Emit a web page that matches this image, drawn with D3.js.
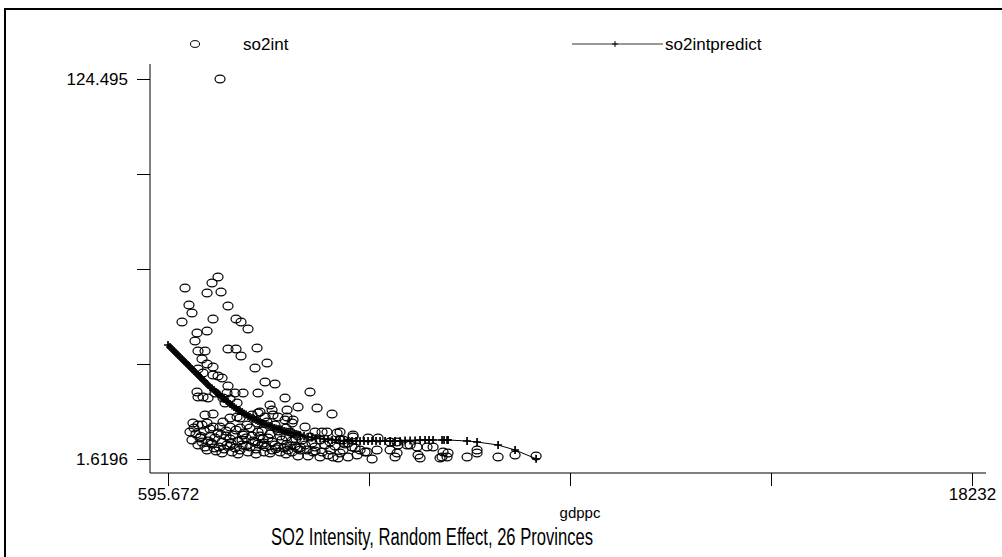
<!DOCTYPE html>
<html>
<head>
<meta charset="utf-8">
<script src="https://cdn.jsdelivr.net/npm/d3@7"></script>
<style>
  body { margin: 0; background: #fff; }
  svg text { font-family: "Liberation Sans", Arial, Helvetica, sans-serif; fill: #000; }
</style>
</head>
<body>
<div id="graphic"></div>
<script>
// SO2 intensity vs gdp per capita, observed values
let gdppc = [
  1737, 1693, 1561, 969, 1452, 1759, 1056, 1912, 1122, 903,
  1583, 2088, 2198, 2351, 1452, 1232, 1188, 1912, 2088, 2549,
  1254, 1408, 2198, 1342, 1452, 2768, 1583, 2505, 1254, 1364,
  1583, 1693, 1781, 2724, 2943, 1912, 1232, 1627, 1890, 2066,
  2242, 2570, 3711, 1254, 1364, 1474, 1803, 1956, 3163, 1847,
  2110, 2834, 3448, 3865, 3207, 2878, 2614, 4194, 1408, 1583,
  2110, 2439, 2570, 2724, 2899, 3009, 3207, 1956, 2176, 1144,
  1254, 1342, 1452, 1583, 1803, 1956, 2176, 2329, 2549, 2768,
  2943, 3163, 3317, 3338, 3602, 3821, 3975, 4084, 4304, 4370,
  4655, 4984, 5203, 5467, 5620, 5840, 6059, 6278, 6410,
  1078, 1210, 1386, 1517, 1693, 1869, 2022, 2263, 2439, 2658, 2834, 3053, 3273, 3448,
  1122, 1298, 1474, 1627, 1781, 1956, 2132, 2307, 2505, 2680, 2878, 3097, 3317, 3536, 3755, 3931, 4150, 4370,
  1254, 1408, 1561, 1715, 1890, 2066, 2220, 2395, 2570, 2746, 2943, 3141, 3382, 3602, 3821, 4040, 4260, 4479,
  1452, 1649, 1825, 2000, 2176, 2351, 2527, 2702, 2878, 3053, 3229, 3426, 3646, 3975, 4150, 4435, 4699, 4962, 5181,
  3448, 3668, 3931, 4216, 4545, 5072, 5576, 5620, 5467, 6081, 6125,
  4633, 4808, 4918, 5642, 5906, 6607, 6739, 6717, 6563, 6629, 7156, 7375, 7375, 7836, 8209, 8670,
  3777, 4326, 4435, 4545, 4655,
  1166, 1517, 1737, 2088, 2395, 2570, 3009, 3185,
  1342, 1869, 2220, 2614, 2790, 3185, 3404, 3711,
  1605, 1956, 2307, 2658, 3009, 3273, 3492, 3821,
  1781, 2132, 2527, 2834, 3185, 3317, 4106, 4370, 4743,
  1320, 1540, 1760, 1980, 2240, 2460, 2700, 2960, 3200, 3500
];
let so2int = [
  124.495, 60.48, 58.54, 56.92, 55.30, 55.63, 51.42, 51.10, 48.84, 45.93,
  46.90, 46.90, 45.93, 43.66, 43.02, 42.37, 39.78, 37.19, 37.19, 37.52,
  36.55, 36.55, 34.93, 33.96, 32.34, 32.67, 31.37, 31.05, 30.73, 29.43,
  28.79, 28.46, 27.82, 26.52, 25.88, 25.23, 23.29, 22.96, 22.96, 22.96,
  22.96, 22.96, 23.29, 21.67, 21.67, 21.35, 21.35, 21.02, 21.35, 19.73,
  19.73, 19.08, 18.44, 18.11, 17.47, 17.47, 16.82, 16.17, 15.85, 16.17,
  15.20, 15.85, 16.50, 15.20, 15.85, 15.20, 15.20, 14.88, 14.88, 13.26,
  12.62, 12.62, 13.26, 11.97, 13.59, 11.97, 11.65, 12.62, 13.26, 13.59,
  12.62, 14.23, 13.26, 14.23, 11.97, 10.35, 10.35, 10.35, 10.03, 10.35,
  9.38, 8.41, 8.41, 7.12, 7.12, 6.15, 5.50, 5.50, 5.50,
  10.35, 9.71, 10.68, 9.06, 10.03, 10.68, 9.38, 10.03, 9.06, 10.68, 9.71, 9.06, 10.35, 9.06,
  7.76, 8.41, 7.44, 8.41, 7.12, 8.09, 7.44, 8.41, 7.12, 8.09, 7.12, 7.76, 7.44, 7.76, 6.79, 7.76, 7.12, 7.76,
  6.15, 5.50, 6.47, 5.50, 6.15, 5.18, 6.15, 5.50, 6.47, 5.50, 6.15, 5.18, 5.82, 6.15, 5.50, 6.15, 5.82, 6.47,
  4.53, 4.21, 4.85, 3.88, 4.53, 3.88, 4.85, 3.88, 4.53, 3.88, 4.53, 5.18, 4.53, 3.88, 4.53, 4.53, 5.18, 3.88, 4.53,
  2.59, 2.59, 2.27, 2.27, 2.27, 1.6196, 2.27, 3.56, 4.53, 2.91, 1.94,
  5.50, 4.53, 3.88, 6.15, 6.15, 2.27, 3.56, 2.27, 1.94, 3.88, 2.27, 4.53, 3.56, 2.27, 2.91, 2.59,
  3.88, 1.94, 7.76, 6.79, 8.73,
  11.65, 11.32, 11.97, 11.00, 11.65, 10.35, 10.68, 11.65,
  7.12, 9.06, 7.76, 9.06, 8.41, 8.73, 8.09, 8.73,
  5.18, 5.82, 5.82, 6.15, 5.50, 5.82, 4.53, 4.21,
  3.56, 3.23, 3.23, 3.56, 3.23, 3.88, 2.91, 3.56, 2.91,
  8.90, 6.90, 9.50, 6.60, 9.40, 7.40, 6.80, 4.90, 6.40, 5.30
];

// Predicted values (random effect)
let predGdppc = [
  596, 640, 683, 728, 771, 815, 859, 903, 947, 991,
  1035, 1078, 1122, 1166, 1210, 1254, 1298, 1342, 1386, 1430,
  1474, 1517, 1561, 1605, 1649, 1693, 1737, 1781, 1825, 1869,
  1912, 1956, 2000, 2044, 2088, 2132, 2176, 2220, 2263, 2307,
  2351, 2395, 2439, 2483, 2527, 2570, 2614, 2658, 2702, 2746,
  2790, 2834, 2878, 2922, 2965, 3009, 3053, 3097, 3141, 3185,
  3229, 3273, 3317, 3360, 3404, 3448, 3492,
  3580, 3668, 3755, 3843, 3931, 4018, 4106, 4194, 4282, 4370,
  4457, 4545, 4633, 4721, 4808, 4896, 4984, 5072, 5159, 5247,
  5357, 5467, 5576, 5686, 5796, 5906, 6015, 6125, 6234, 6322,
  6410, 6607, 6651, 6717, 6739, 7156, 7375, 7836, 8209, 8670
];
let predSo2 = [
  38.49, 37.84, 37.19, 36.55, 35.90, 35.25, 34.61, 33.96, 33.31, 32.67,
  32.02, 31.37, 30.73, 30.08, 29.43, 28.79, 28.14, 27.49, 26.85, 26.20,
  25.55, 24.90, 24.42, 23.93, 23.29, 22.64, 22.16, 21.67, 21.02, 20.54,
  20.05, 19.41, 18.92, 18.44, 17.95, 17.47, 17.14, 16.82, 16.33, 16.01,
  15.53, 15.20, 14.88, 14.56, 14.23, 13.91, 13.59, 13.26, 12.94, 12.78,
  12.45, 12.29, 11.97, 11.65, 11.48, 11.32, 11.16, 11.00, 10.68, 10.51,
  10.35, 10.19, 10.03, 9.87, 9.71, 9.54, 9.38,
  9.06, 8.73, 8.57, 8.41, 8.25, 8.09, 7.93, 7.76, 7.76, 7.60,
  7.44, 7.44, 7.44, 7.44, 7.44, 7.44, 7.44, 7.44, 7.44, 7.44,
  7.44, 7.44, 7.44, 7.44, 7.60, 7.60, 7.60, 7.76, 7.76, 7.76,
  7.76, 7.76, 7.76, 7.76, 7.76, 7.44, 7.12, 6.15, 4.53, 1.70
];

// Axes: only both ends are labelled
let xTickValues = [595.672, 5004.754, 9413.836, 13822.918, 18232];
let xTickLabels = ["595.672", "", "", "", "18232"];
let yTickValues = [1.6196, 32.33845, 63.0573, 93.77615, 124.495];
let yTickLabels = ["1.6196", "", "", "", "124.495"];

let legendLabels = ["so2int", "so2intpredict"];
let xTitle = "gdppc";
let chartTitle = "SO2 Intensity, Random Effect, 26 Provinces";

let cadre = d3.select("#graphic")
  .append("svg")
  .attr("width", 1002)
  .attr("height", 557);

// outer frame (runs past the right and bottom edges)
cadre.append("rect")
  .attr("x", 5).attr("y", 9)
  .attr("width", 1020).attr("height", 580)
  .attr("fill", "none")
  .attr("stroke", "#000")
  .attr("stroke-width", 2);

let x = d3.scaleLinear().domain([595.672, 18232]).range([168, 972]);
let y = d3.scaleLinear().domain([1.6196, 124.495]).range([459, 79]);

// axis lines
cadre.append("line")
  .attr("x1", 150).attr("x2", 150).attr("y1", 64).attr("y2", 473)
  .attr("stroke", "#000");
cadre.append("line")
  .attr("x1", 150).attr("x2", 986).attr("y1", 473).attr("y2", 473)
  .attr("stroke", "#000");

let yAxis = d3.axisLeft(y)
  .tickValues(yTickValues)
  .tickFormat(function(d, i){ return yTickLabels[i]; })
  .tickSize(13)
  .tickPadding(9);
let gy = cadre.append("g")
  .attr("transform", "translate(150,0)")
  .call(yAxis);
gy.select(".domain").remove();
gy.selectAll("text").attr("font-size", 17);

let xAxis = d3.axisBottom(x)
  .tickValues(xTickValues)
  .tickFormat(function(d, i){ return xTickLabels[i]; })
  .tickSize(13)
  .tickPadding(2);
let gx = cadre.append("g")
  .attr("transform", "translate(0,473)")
  .call(xAxis);
gx.select(".domain").remove();
gx.selectAll("text").attr("font-size", 17);
cadre.selectAll(".tick line").attr("stroke", "#000");

// observed points
cadre.append("g")
  .selectAll("ellipse")
  .data(gdppc)
  .enter()
    .append("ellipse")
    .attr("cx", function(d){ return x(d); })
    .attr("cy", function(d, i){ return y(so2int[i]); })
    .attr("rx", 5)
    .attr("ry", 3.9)
    .attr("fill", "none")
    .attr("stroke", "#000")
    .attr("stroke-width", 1.2);

// predicted line with + markers
let pred = predGdppc.map(function(d, i){ return [d, predSo2[i]]; });
cadre.append("path")
  .datum(pred)
  .attr("fill", "none")
  .attr("stroke", "#000")
  .attr("stroke-width", 1)
  .attr("d", d3.line().x(function(d){ return x(d[0]); }).y(function(d){ return y(d[1]); }));

cadre.append("g")
  .selectAll("path.plus")
  .data(pred)
  .enter()
    .append("path")
    .attr("class", "plus")
    .attr("d", "M-4,0H4M0,-4V4")
    .attr("transform", function(d){ return "translate(" + x(d[0]) + "," + y(d[1]) + ")"; })
    .attr("stroke", "#000")
    .attr("stroke-width", 1.7)
    .attr("fill", "none");

// legend
let legend = cadre.append("g");
legend.append("ellipse")
  .attr("cx", 195).attr("cy", 44).attr("rx", 4.5).attr("ry", 3.4)
  .attr("fill", "none").attr("stroke", "#000");
legend.append("text")
  .attr("x", 243).attr("y", 50)
  .attr("font-size", 17)
  .text(legendLabels[0]);
legend.append("line")
  .attr("x1", 572).attr("x2", 663).attr("y1", 44).attr("y2", 44)
  .attr("stroke", "#333");
legend.append("path")
  .attr("d", "M612,44H618M615,41V47")
  .attr("stroke", "#000");
legend.append("text")
  .attr("x", 665).attr("y", 50)
  .attr("font-size", 17)
  .text(legendLabels[1]);

// titles
cadre.append("text")
  .attr("x", 580).attr("y", 518)
  .attr("text-anchor", "middle")
  .attr("font-size", 15)
  .text(xTitle);
cadre.append("text")
  .attr("x", 432).attr("y", 545)
  .attr("text-anchor", "middle")
  .attr("font-size", 23)
  .attr("textLength", 322)
  .attr("lengthAdjust", "spacingAndGlyphs")
  .text(chartTitle);
</script>
</body>
</html>
